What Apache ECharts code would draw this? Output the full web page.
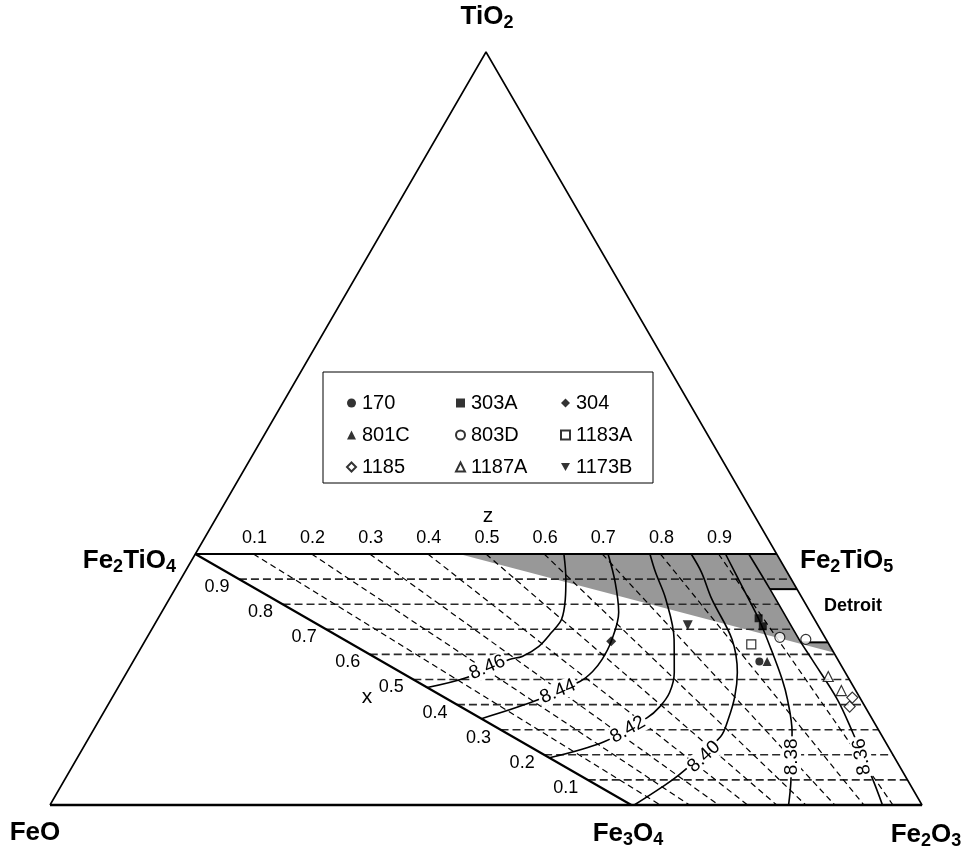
<!DOCTYPE html>
<html>
<head>
<meta charset="utf-8">
<script src="https://cdn.jsdelivr.net/npm/echarts@6/dist/echarts.min.js"></script>
<style>
  html, body { margin: 0; padding: 0; background: #fff; }
  #chart { width: 974px; height: 851px; }
</style>
</head>
<body>
<div id="chart"></div>
<script>
// Ternary FeO – FeO1.5 – TiO2 (cation fractions) with the titanomagnetite /
// titanomaghemite field Fe(3-x)Ti(x)O4 oxidised by z, lattice-parameter contours (Å)
// and sample compositions given as [x, z].

const xTicks = [0.1, 0.2, 0.3, 0.4, 0.5, 0.6, 0.7, 0.8, 0.9];
const xTickLabels = ['0.1', '0.2', '0.3', '0.4', '0.5', '0.6', '0.7', '0.8', '0.9'];
const zTicks = [0.1, 0.2, 0.3, 0.4, 0.5, 0.6, 0.7, 0.8, 0.9];
const zTickLabels = ['0.1', '0.2', '0.3', '0.4', '0.5', '0.6', '0.7', '0.8', '0.9'];

// sample points [x, z]
const s170   = [[0.572, 0.826]];
const s303A  = [[0.744, 0.891], [0.712, 0.888]];
const s304   = [[0.652, 0.550]];
const s801C  = [[0.572, 0.843]];
const s803D  = [[0.668, 0.907], [0.660, 0.958]];
const s1183A = [[0.640, 0.837]];
const s1185  = [[0.428, 0.982], [0.392, 0.962]];
const s1187A = [[0.512, 0.956], [0.456, 0.966]];
const s1173B = [[0.716, 0.739]];

// lattice parameter contours, [x, z] along each curve
const contourLevels = ['8.46', '8.44', '8.42', '8.40', '8.38', '8.36'];
const c846 = [[0.468, 0], [0.508, 0.130], [0.580, 0.285], [0.592, 0.322], [0.632, 0.386], [0.688, 0.449], [0.740, 0.500], [0.820, 0.551], [0.900, 0.592], [1, 0.634]];
const c844 = [[0.344, 0], [0.412, 0.199], [0.492, 0.376], [0.532, 0.434], [0.580, 0.487], [0.648, 0.547], [0.768, 0.627], [0.888, 0.676], [1, 0.710]];
const c842 = [[0.188, 0], [0.252, 0.227], [0.348, 0.428], [0.392, 0.493], [0.448, 0.555], [0.528, 0.615], [0.660, 0.685], [0.820, 0.741], [0.928, 0.765], [1, 0.782]];
const c840 = [[0, 0.010], [0.072, 0.200], [0.128, 0.323], [0.272, 0.562], [0.340, 0.629], [0.432, 0.701], [0.528, 0.757], [0.660, 0.805], [0.820, 0.828], [0.928, 0.847], [1, 0.853]];
const c838 = [[0, 0.541], [0.092, 0.629], [0.292, 0.767], [0.420, 0.822], [0.500, 0.846], [0.620, 0.871], [0.740, 0.890], [0.860, 0.901], [1, 0.912]];
const c836 = [[0, 0.864], [0.108, 0.894], [0.288, 0.927], [0.420, 0.943], [0.580, 0.944], [0.660, 0.944], [0.860, 0.950], [1, 0.952]];
// where each contour value is written, [x, z]
const contourLabelAt = [[0.548, 0.211], [0.452, 0.293], [0.300, 0.337], [0.192, 0.451], [0.192, 0.704], [0.192, 0.907]];

// shaded field and the Detroit box, [x, z]
const grayRegion = [[1, 0.454], [1, 1], [0.608, 1]];
const detroitBox = [[0.860, 0.950], [0.860, 1], [0.648, 1], [0.648, 0.944]];

// ---------------------------------------------------------------------------
const FONT = '"Liberation Sans", Arial, Helvetica, sans-serif';

// (x, z) -> cartesian position in the ternary triangle (FeO left, FeO1.5 right, TiO2 top)
function toXY(x, z) {
  const ti = x / 3;
  const fe3 = (2 - 2 * x + (1 + x) * z) / 3;
  return [fe3 + ti / 2, ti];
}
const pts = arr => arr.map(p => toXY(p[0], p[1]));

const series = [];

function polygon(verts, fill, z) {
  series.push({
    type: 'custom', coordinateSystem: 'cartesian2d', silent: true, z: z, clip: false,
    data: [[0, 0]],
    renderItem: (params, api) => ({
      type: 'polygon',
      shape: { points: verts.map(v => api.coord(toXY(v[0], v[1]))) },
      style: { fill: fill }
    })
  });
}

function segment(data, style, z, smooth) {
  series.push({
    type: 'line', data: data, z: z, silent: true, symbol: 'none',
    smooth: smooth || false, lineStyle: style, clip: false
  });
}

// text placed at data positions: items are {pos:[X,Y], text, rotate, dx, dy}
function textLayer(items, font, withBackground, z) {
  series.push({
    type: 'custom', coordinateSystem: 'cartesian2d', silent: true, z: z, clip: false,
    data: items.map(it => it.pos),
    renderItem: (params, api) => {
      const it = items[params.dataIndex];
      const p = api.coord([api.value(0), api.value(1)]);
      const style = { text: it.text, font: font, fill: '#000', align: 'center', verticalAlign: 'middle' };
      if (withBackground) { style.backgroundColor = '#fff'; style.padding = [0, 2]; }
      return { type: 'text', x: p[0] + (it.dx || 0), y: p[1] + (it.dy || 0),
        rotation: (it.rotate || 0) * Math.PI / 180, style: style };
    }
  });
}

polygon(grayRegion, '#989898', 1);

// constant-x (horizontal) and constant-z guide lines
xTicks.forEach(x => segment(pts([[x, 0], [x, 1]]), { color: '#2a2a2a', width: 1.6, type: [8, 4] }, 2));
zTicks.forEach(z => segment(pts([[1, z], [0, z]]), { color: '#000', width: 1.2, type: [6, 4] }, 2));

polygon(detroitBox, '#ffffff', 3);
segment(pts([detroitBox[0], detroitBox[1]]), { color: '#000', width: 2 }, 4);
segment(pts([detroitBox[2], detroitBox[3]]), { color: '#000', width: 2 }, 4);

// outer triangle FeO – Fe2O3 – TiO2
segment([[0, 0], [1, 0], [0.5, 1], [0, 0]], { color: '#000', width: 1.6 }, 4);
// Fe2TiO4 – Fe2TiO5 and Fe2TiO4 – Fe3O4
segment(pts([[1, 1], [1, 0], [0, 0]]), { color: '#000', width: 2.2 }, 4);
segment([[0, 0], [1, 0]], { color: '#000', width: 2.4 }, 4);

[c846, c844, c842, c840, c838, c836].forEach(c =>
  segment(pts(c), { color: '#000', width: 1.6 }, 5, 0.35));

const labelRotate = [23, 23, 29, 43, 90, 100];
textLayer(contourLabelAt.map((p, i) => ({ pos: toXY(p[0], p[1]), text: contourLevels[i], rotate: labelRotate[i] })),
  '19px ' + FONT, true, 6);

// tick labels along the Fe2TiO4–Fe3O4 edge (x) and the Fe2TiO4–Fe2TiO5 edge (z)
textLayer(xTicks.map((x, i) => ({ pos: toXY(x, 0), text: xTickLabels[i], dx: -22, dy: 8 }))
  .concat(zTicks.map((z, i) => ({ pos: toXY(1, z), text: zTickLabels[i], dx: 1, dy: -16 }))),
  '18px ' + FONT, false, 6);

// samples
const filled = { color: '#000' };
const open = { color: '#fff', borderColor: '#000', borderWidth: 1.2 };
const samples = [
  { name: '170',   data: s170,   symbol: 'circle',  size: 8,  style: filled },
  { name: '303A',  data: s303A,  symbol: 'rect',    size: 8,  style: filled },
  { name: '304',   data: s304,   symbol: 'diamond', size: 10, style: filled },
  { name: '801C',  data: s801C,  symbol: 'triangle', size: 9, style: filled },
  { name: '803D',  data: s803D,  symbol: 'circle',  size: 10, style: open },
  { name: '1183A', data: s1183A, symbol: 'rect',    size: 9,  style: open },
  { name: '1185',  data: s1185,  symbol: 'diamond', size: 11, style: open },
  { name: '1187A', data: s1187A, symbol: 'triangle', size: 10, style: open },
  { name: '1173B', data: s1173B, symbol: 'path://M0,0L10,0L5,9Z', size: 10, style: filled }
];
samples.forEach(s => series.push({
  type: 'scatter', name: s.name, z: 7, data: pts(s.data),
  symbol: s.symbol, symbolSize: s.size, itemStyle: s.style
}));

function legendColumn(names, left) {
  return {
    data: names, orient: 'vertical', left: left, top: 388,
    itemWidth: 9, itemHeight: 9, itemGap: 12, selectedMode: false,
    textStyle: { fontSize: 20, lineHeight: 20, fontFamily: FONT, color: '#000', padding: [0, 0, 0, 1] }
  };
}

function chem(tokens) {
  return tokens.map(t => /^\d$/.test(t) ? '{s|' + t + '}' : '{b|' + t + '}').join('');
}
const chemRich = {
  b: { fontSize: 26, fontWeight: 'bold', fontFamily: FONT, lineHeight: 30, fill: '#000' },
  s: { fontSize: 18, fontWeight: 'bold', fontFamily: FONT, lineHeight: 12, verticalAlign: 'bottom', fill: '#000' }
};
function chemText(tokens, x, y, align) {
  return { type: 'text', x: x, y: y, silent: true,
    style: { text: chem(tokens), rich: chemRich, align: align, verticalAlign: 'middle' } };
}
function plainText(text, x, y, size, weight) {
  return { type: 'text', x: x, y: y, silent: true,
    style: { text: text, fontSize: size, fontWeight: weight || 'normal', fontFamily: FONT,
      fill: '#000', align: 'center', verticalAlign: 'middle' } };
}

const chart = echarts.init(document.getElementById('chart'), null, { renderer: 'canvas' });
chart.setOption({
  animation: false,
  backgroundColor: '#fff',
  grid: { left: 50, right: 52, top: 52, bottom: 46 },
  xAxis: { type: 'value', min: 0, max: 1, show: false },
  yAxis: { type: 'value', min: 0, max: 1, show: false },
  legend: [
    legendColumn(['170', '801C', '1185'], 341),
    legendColumn(['303A', '803D', '1187A'], 450),
    legendColumn(['304', '1183A', '1173B'], 555)
  ],
  graphic: [
    { type: 'rect', shape: { x: 323, y: 372, width: 330, height: 111 }, silent: true,
      style: { fill: null, stroke: '#000', lineWidth: 1 }, z: 10 },
    chemText(['TiO', '2'], 487, 17, 'center'),
    chemText(['Fe', '2', 'TiO', '4'], 176, 561, 'right'),
    chemText(['Fe', '2', 'TiO', '5'], 800, 561, 'left'),
    chemText(['FeO'], 35, 833, 'center'),
    chemText(['Fe', '3', 'O', '4'], 628, 834, 'center'),
    chemText(['Fe', '2', 'O', '3'], 926, 835, 'center'),
    plainText('Detroit', 853, 606, 18, 'bold'),
    plainText('x', 367, 697, 21),
    plainText('z', 488, 516, 21)
  ],
  series: series
});
</script>
</body>
</html>
